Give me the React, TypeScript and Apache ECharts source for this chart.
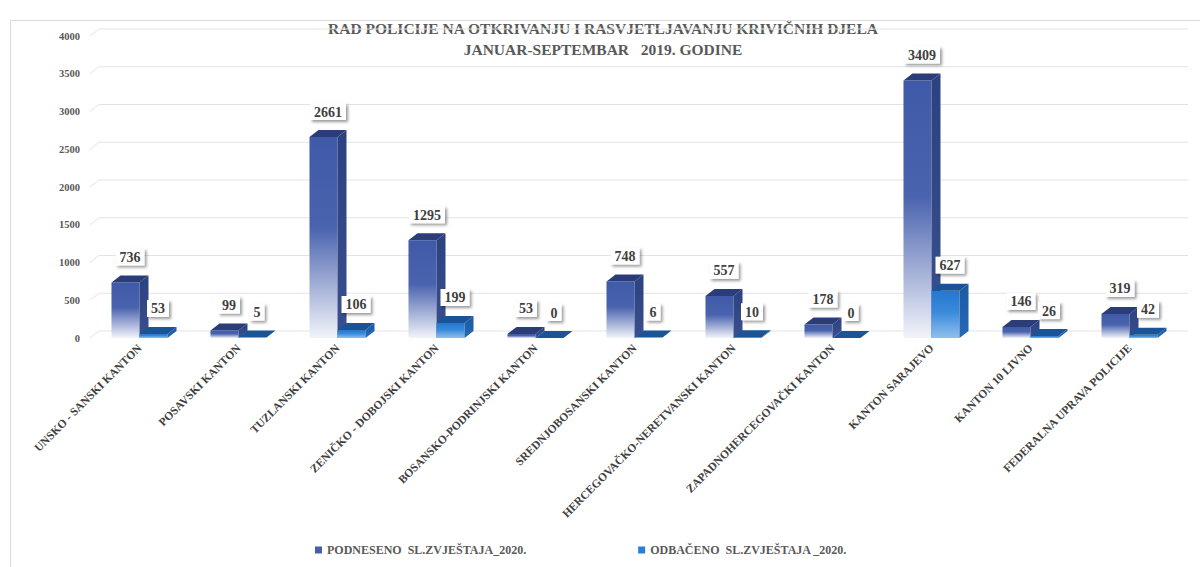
import React, { useEffect, useRef } from "react";
import * as echarts from "echarts";

const categories = [
  "UNSKO - SANSKI KANTON",
  "POSAVSKI KANTON",
  "TUZLANSKI KANTON",
  "ZENIČKO - DOBOJSKI KANTON",
  "BOSANSKO-PODRINJSKI KANTON",
  "SREDNJOBOSANSKI KANTON",
  "HERCEGOVAČKO-NERETVANSKI KANTON",
  "ZAPADNOHERCEGOVAČKI KANTON",
  "KANTON SARAJEVO",
  "KANTON 10 LIVNO",
  "FEDERALNA UPRAVA POLICIJE",
];
const podneseno = [736, 99, 2661, 1295, 53, 748, 557, 178, 3409, 146, 319];
const odbaceno = [53, 5, 106, 199, 0, 6, 10, 0, 627, 26, 42];
const yTicks = [0, 500, 1000, 1500, 2000, 2500, 3000, 3500, 4000];

const seriesNames = ["PODNESENO  SL.ZVJEŠTAJA_2020.", "ODBAČENO  SL.ZVJEŠTAJA _2020."];
const titleLines = [
  "RAD POLICIJE NA OTKRIVANJU I RASVJETLJAVANJU KRIVIČNIH DJELA",
  "JANUAR-SEPTEMBAR   2019. GODINE",
];

const FONT = "'Liberation Serif', 'DejaVu Serif', serif";
const DX = 9;
const DY = 7;

const palettes = [
  {
    front: ["#3F5AA8", "#4A63AE", "#F2F4FA"],
    side: ["#2C4180", "#3A4F8E"],
    top: "#2B3D78",
    legend: "#4460AC",
  },
  {
    front: ["#2477CF", "#3A8ADB", "#8FC0EE"],
    side: ["#1B5AA3", "#2569B5"],
    top: "#1A5496",
    legend: "#2B7FD6",
  },
];

function makeBarRender(idx: number) {
  const pal = palettes[idx];
  return (params: any, api: any) => {
    const ci = api.value(0);
    const v = api.value(1);
    const base = api.coord([ci, 0]);
    const top = api.coord([ci, v]);
    const band = api.size([1, 0])[0];
    const w = band * 0.283;
    const x0 = base[0] - w + idx * w;
    const yT = top[1];
    const yB = base[1];
    const h = yB - yT;
    const children: any[] = [];
    if (h > 0.5) {
      children.push({
        type: "rect",
        shape: { x: x0, y: yT, width: w, height: h },
        style: {
          fill: new echarts.graphic.LinearGradient(0, 0, 0, 1, [
            { offset: 0, color: pal.front[0] },
            { offset: 0.45, color: pal.front[1] },
            { offset: 1, color: pal.front[2] },
          ]),
        },
      });
      children.push({
        type: "polygon",
        shape: {
          points: [
            [x0 + w, yT],
            [x0 + w + DX, yT - DY],
            [x0 + w + DX, yB - DY],
            [x0 + w, yB],
          ],
        },
        style: {
          fill: new echarts.graphic.LinearGradient(0, 0, 0, 1, [
            { offset: 0, color: pal.side[0] },
            { offset: 1, color: pal.side[1] },
          ]),
        },
      });
    }
    children.push({
      type: "polygon",
      shape: {
        points: [
          [x0, yT],
          [x0 + DX, yT - DY],
          [x0 + w + DX, yT - DY],
          [x0 + w, yT],
        ],
      },
      style: { fill: pal.top },
    });
    children.push({
      type: "text",
      x: x0 + (w + DX) / 2,
      y: yT - DY - 10,
      style: {
        text: String(v),
        align: "center",
        verticalAlign: "bottom",
        font: `bold 14px ${FONT}`,
        fill: "#404040",
        backgroundColor: "#ffffff",
        padding: [1, 4, 0, 4],
        lineHeight: 16,
        shadowColor: "rgba(0,0,0,0.4)",
        shadowBlur: 3,
        shadowOffsetX: 2,
        shadowOffsetY: 2,
      },
    });
    return { type: "group", children };
  };
}

function wallRender(params: any, api: any) {
  const cs = params.coordSys;
  const y = api.coord([0, api.value(1)])[1];
  return {
    type: "polyline",
    shape: {
      points: [
        [cs.x, y],
        [cs.x + DX, y - DY],
        [cs.x + cs.width + DX, y - DY],
      ],
    },
    style: { stroke: "#e3e3e3", lineWidth: 1, fill: null },
    silent: true,
  };
}

export default function App() {
  const ref = useRef<HTMLDivElement>(null);
  useEffect(() => {
    document.body.style.margin = "0";
    if (!ref.current) return;
    const chart = echarts.init(ref.current, undefined, { renderer: "svg" });
    chart.setOption({
      animation: false,
      backgroundColor: "#ffffff",
      grid: { left: 90, right: 21, top: 36, bottom: 229, containLabel: false },
      legend: {
        data: seriesNames.map((n, i) => ({
          name: n,
          itemStyle: { color: palettes[i].legend },
        })),
        left: 310,
        top: 539,
        icon: "rect",
        itemWidth: 7,
        itemHeight: 7,
        itemGap: 112,
        textStyle: { fontFamily: FONT, fontWeight: "bold", fontSize: 12, color: "#595959" },
      },
      xAxis: {
        type: "category",
        data: categories,
        axisLine: { show: false },
        axisTick: { show: false },
        splitLine: { show: false },
        axisLabel: {
          interval: 0,
          rotate: 45,
          margin: 8,
          fontFamily: FONT,
          fontWeight: "bold",
          fontSize: 11.5,
          color: "#404040",
        },
      },
      yAxis: {
        type: "value",
        min: 0,
        max: 4000,
        interval: 500,
        axisLine: { show: false },
        axisTick: { show: false },
        splitLine: { show: false },
        axisLabel: {
          margin: 10,
          formatter: (v: number) => String(v),
          fontFamily: FONT,
          fontWeight: "bold",
          fontSize: 10.5,
          color: "#595959",
        },
      },
      graphic: [
        {
          type: "rect",
          shape: { x: 10.5, y: 20.5, width: 1195, height: 560 },
          style: { fill: "none", stroke: "#d9d9d9", lineWidth: 1 },
          silent: true,
        },
        {
          type: "text",
          x: 603,
          y: 28,
          style: {
            text: titleLines[0],
            align: "center",
            verticalAlign: "middle",
            font: `bold 15.5px ${FONT}`,
            fill: "#595959",
          },
        },
        {
          type: "text",
          x: 603,
          y: 49,
          style: {
            text: titleLines[1],
            align: "center",
            verticalAlign: "middle",
            font: `bold 15.5px ${FONT}`,
            fill: "#595959",
          },
        },
      ],
      series: [
        {
          name: "wall",
          type: "custom",
          renderItem: wallRender,
          data: yTicks.map((t) => [0, t]),
          encode: { x: 0, y: 1 },
          z: 1,
          silent: true,
          tooltip: { show: false },
        },
        {
          name: seriesNames[0],
          type: "custom",
          renderItem: makeBarRender(0),
          data: podneseno.map((v, i) => [i, v]),
          encode: { x: 0, y: 1 },
          itemStyle: { color: palettes[0].legend },
          z: 2,
        },
        {
          name: seriesNames[1],
          type: "custom",
          renderItem: makeBarRender(1),
          data: odbaceno.map((v, i) => [i, v]),
          encode: { x: 0, y: 1 },
          itemStyle: { color: palettes[1].legend },
          z: 3,
        },
      ],
    });
    return () => chart.dispose();
  }, []);
  return <div ref={ref} style={{ width: 1200, height: 567 }} />;
}
